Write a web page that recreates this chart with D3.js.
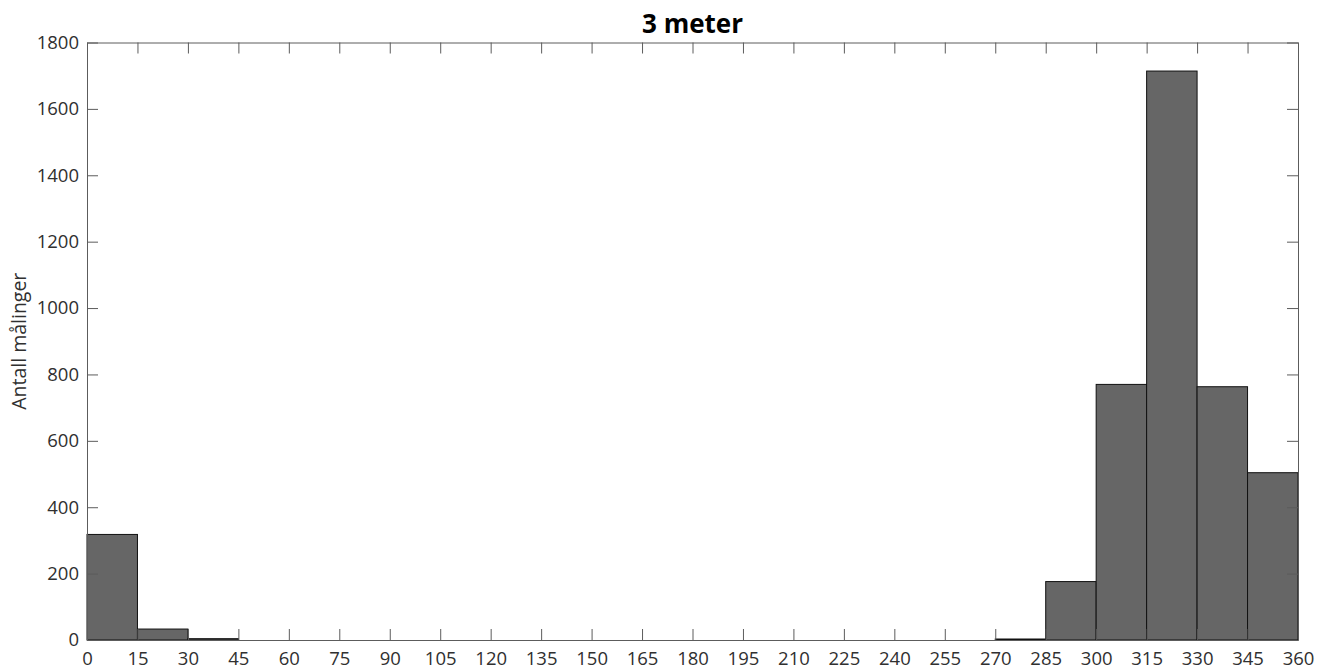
<!DOCTYPE html>
<html>
<head>
<meta charset="utf-8">
<script src="https://cdn.jsdelivr.net/npm/d3@7"></script>
<style>
  body { margin: 0; background: #fff; }
  text { font-family: "Open Sans", sans-serif; fill: #303030; }
</style>
</head>
<body>
<div id="viz"></div>
<script>
// histogram bins (degrees) and counts
var binStarts = [0, 15, 30, 45, 60, 75, 90, 105, 120, 135, 150, 165, 180,
                 195, 210, 225, 240, 255, 270, 285, 300, 315, 330, 345];
var counts = [318, 33, 4, 0, 0, 0, 0, 0, 0, 0, 0, 0, 0,
              0, 0, 0, 0, 0, 3, 176, 770, 1714, 763, 504];
var xTicks = d3.range(0, 361, 15);
var yTicks = [0, 200, 400, 600, 800, 1000, 1200, 1400, 1600, 1800];
var binWidth = 15;

var width = 1329,
    height = 671,
    plotLeft = 87,
    plotRight = 1298,
    plotTop = 42.5,
    plotBottom = 640,
    tickLen = 11;

var xScale = d3.scaleLinear().domain([0, 360]).range([plotLeft, plotRight]);
var yScale = d3.scaleLinear().domain([0, 1800]).range([plotBottom, plotTop]);

var svg = d3.select('#viz').append('svg')
  .attr('width', width)
  .attr('height', height);

// bars
svg.selectAll('rect.bar').data(binStarts)
  .enter().append('rect')
    .attr('class', 'bar')
    .attr('x', function(d) { return xScale(d); })
    .attr('width', function(d) { return xScale(d + binWidth) - xScale(d); })
    .attr('y', function(d, i) { return yScale(counts[i]); })
    .attr('height', function(d, i) { return plotBottom - yScale(counts[i]); })
    .attr('fill', '#666666')
    .attr('stroke', function(d, i) { return counts[i] > 0 ? '#111' : 'none'; })
    .attr('stroke-width', 1);

// axes (ticks pointing inward, mirrored on top/right)
var axisColor = '#5c5c5c';
var fmt = d3.format('d');

svg.append('g')
  .attr('transform', 'translate(0,' + plotBottom + ')')
  .call(d3.axisBottom(xScale).tickValues(xTicks).tickFormat(fmt)
    .tickSizeInner(-tickLen).tickSizeOuter(0).tickPadding(12))
  .call(function(g) {
    g.selectAll('text').style('font-size', '18.5px');
  });

svg.append('g')
  .attr('transform', 'translate(0,' + plotTop + ')')
  .call(d3.axisTop(xScale).tickValues(xTicks).tickSizeInner(-tickLen).tickSizeOuter(0).tickFormat(''));

svg.append('g')
  .attr('transform', 'translate(' + plotLeft + ',0)')
  .call(d3.axisLeft(yScale).tickValues(yTicks).tickFormat(fmt)
    .tickSizeInner(-tickLen).tickSizeOuter(0).tickPadding(8))
  .call(function(g) {
    g.selectAll('text').style('font-size', '18.5px');
  });

svg.append('g')
  .attr('transform', 'translate(' + plotRight + ',0)')
  .call(d3.axisRight(yScale).tickValues(yTicks).tickSizeInner(-tickLen).tickSizeOuter(0).tickFormat(''));

svg.selectAll('.domain, .tick line').attr('stroke', axisColor);
svg.selectAll('.tick text')
  .attr('font-family', '"Open Sans", sans-serif')
  .attr('fill', '#303030');

// title
svg.append('text')
  .attr('x', (plotLeft + plotRight) / 2)
  .attr('y', 33)
  .attr('text-anchor', 'middle')
  .style('font-size', '26px')
  .style('font-weight', 'bold')
  .style('fill', '#000')
  .text('3 meter');

// y label
svg.append('text')
  .attr('transform', 'translate(26,' + ((plotTop + plotBottom) / 2) + ') rotate(-90)')
  .attr('text-anchor', 'middle')
  .style('font-size', '19.5px')
  .text('Antall målinger');
</script>
</body>
</html>
